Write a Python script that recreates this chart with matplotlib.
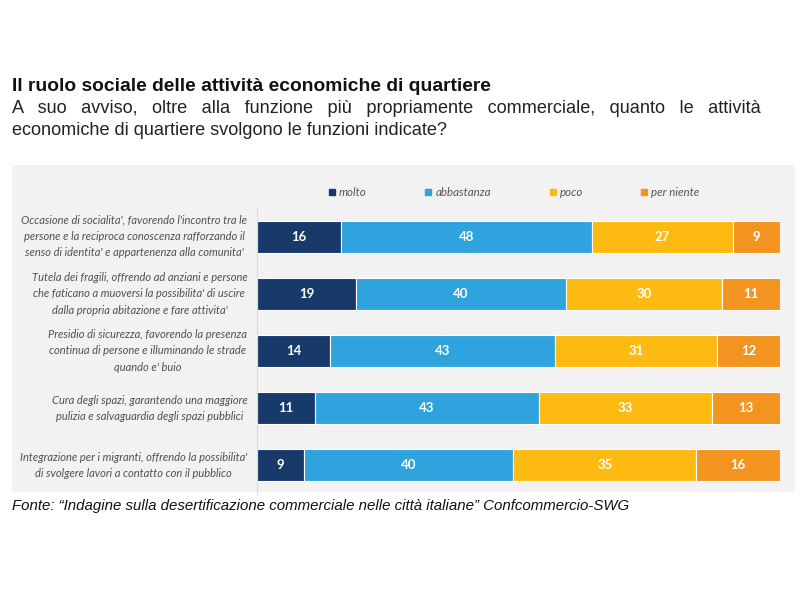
import matplotlib
matplotlib.use("Agg")
import matplotlib.pyplot as plt
from matplotlib.patches import Rectangle
from matplotlib.lines import Line2D
import numpy as np

categories = [
    "Occasione di socialita', favorendo l'incontro tra le\npersone e la reciproca conoscenza rafforzando il\nsenso di identita' e appartenenza alla comunita'",
    "Tutela dei fragili, offrendo ad anziani e persone\nche faticano a muoversi la possibilita' di uscire\ndalla propria abitazione e fare attivita'",
    "Presidio di sicurezza, favorendo la presenza\ncontinua di persone e illuminando le strade\nquando e' buio",
    "Cura degli spazi, garantendo una maggiore\npulizia e salvaguardia degli spazi pubblici",
    "Integrazione per i migranti, offrendo la possibilita'\ndi svolgere lavori a contatto con il pubblico",
]
series_names = ["molto", "abbastanza", "poco", "per niente"]
molto = [16, 19, 14, 11, 9]
abbastanza = [48, 40, 43, 43, 40]
poco = [27, 30, 31, 33, 35]
per_niente = [9, 11, 12, 13, 16]
colors = ["#173a6a", "#2fa3de", "#fdbb12", "#f39320"]

title = "Il ruolo sociale delle attività economiche di quartiere"
sub1 = "A suo avviso, oltre alla funzione più propriamente commerciale, quanto le attività"
sub2 = "economiche di quartiere svolgono le funzioni indicate?"
source = "Fonte: \u201cIndagine sulla desertificazione commerciale nelle città italiane\u201d Confcommercio-SWG"

W, H = 800, 600
fig = plt.figure(figsize=(8, 6), dpi=100)
fig.patch.set_facecolor("white")
renderer = fig.canvas.get_renderer()

def px(x, y):
    return x / W, 1 - y / H

def width_of(s, **kw):
    t = fig.text(0, 0, s, **kw)
    w = t.get_window_extent(renderer).width
    t.remove()
    return w

def fit_text(x, y, s, target_w, size0=11, **kw):
    t = fig.text(*px(x, y), s, fontsize=size0, **kw)
    w = t.get_window_extent(renderer).width
    t.set_fontsize(size0 * target_w / w)
    return t

# gray panel
fig.patches.append(Rectangle(px(12, 492), (795 - 12) / W, (492 - 165) / H,
                             transform=fig.transFigure, facecolor="#f2f2f2",
                             edgecolor="none", zorder=-5))

# title
fit_text(12, 91, title, 482, family="Liberation Sans", weight="bold", va="baseline", color="#111111")

# subtitle line 2 (fit), line 1 justified by widening the spaces
t2 = fit_text(12, 135, sub2, 436, family="Liberation Sans", va="baseline", color="#222222")
fs = t2.get_fontsize()
fkw = dict(fontsize=fs, family="Liberation Sans")
base = width_of("xx", **fkw)
sp = width_of("x x", **fkw) - base
hair = width_of("x\u200ax", **fkw) - base
words = sub1.split(" ")
natural = width_of("".join(words), **fkw)
gap = (748 - natural) / (len(words) - 1)
pieces = []
for i, wd in enumerate(words):
    pieces.append(wd)
    if i < len(words) - 1:
        n_sp = int(gap // sp)
        rest = gap - n_sp * sp
        n_h = int(round(rest / hair)) if hair > 0 else 0
        pieces.append(" " * n_sp + "\u200a" * n_h)
fig.text(*px(12, 113), "".join(pieces), va="baseline", color="#222222", **fkw)

# source
fit_text(12, 510, source, 616, family="Liberation Sans", style="italic", va="baseline", color="#111111")

# axes
ax = fig.add_axes([257 / W, 1 - 494 / H, (780 - 257) / W, (494 - 208) / H])
ax.set_facecolor("none")
ax.set_zorder(2)
y = np.arange(len(categories))
left = np.zeros(len(categories))
data = [molto, abbastanza, poco, per_niente]
for vals, col, name in zip(data, colors, series_names):
    vals = np.array(vals, dtype=float)
    ax.barh(y, vals, left=left, height=0.56, color=col, edgecolor="white",
            linewidth=0.8, label=name)
    for yi, l, v in zip(y, left, vals):
        ax.text(l + v / 2, yi, f"{int(v)}", ha="center", va="center", color="white",
                fontsize=9.5, fontweight="bold", family="Lato")
    left += vals
ax.set_xlim(0, 100)
ax.set_ylim(len(categories) - 0.5, -0.5)
for s in ["top", "right", "bottom"]:
    ax.spines[s].set_visible(False)
ax.spines["left"].set_color("#d9d9d9")
ax.spines["left"].set_linewidth(0.8)
ax.set_xticks([])
ax.set_yticks([])

# category labels (fit first label's longest line to reference width)
lab_fs = 10 * 228 / width_of("Occasione di socialita', favorendo l'incontro tra le",
                             fontsize=10, style="italic", family="Lato")
for yi, lab in zip(y, categories):
    ax.annotate(lab, xy=(0, yi), xycoords="data", xytext=(-7, 0), textcoords="offset points",
                ha="right", va="center", multialignment="center", fontsize=lab_fs,
                style="italic", family="Lato", color="#505050", linespacing=1.6,
                annotation_clip=False)

# legend
handles = [Line2D([], [], marker="s", linestyle="none", markersize=4.5,
                  markerfacecolor=c, markeredgecolor=c) for c in colors]
leg = fig.legend(handles, series_names, loc="center", bbox_to_anchor=px(513, 193),
                 ncol=4, frameon=False, columnspacing=4.85, handletextpad=0.1,
                 handlelength=1.0, prop={"family": "Lato", "style": "italic", "size": 8.3})
for t in leg.get_texts():
    t.set_color("#555555")

fig.savefig("out.png", dpi=100, facecolor="white")
